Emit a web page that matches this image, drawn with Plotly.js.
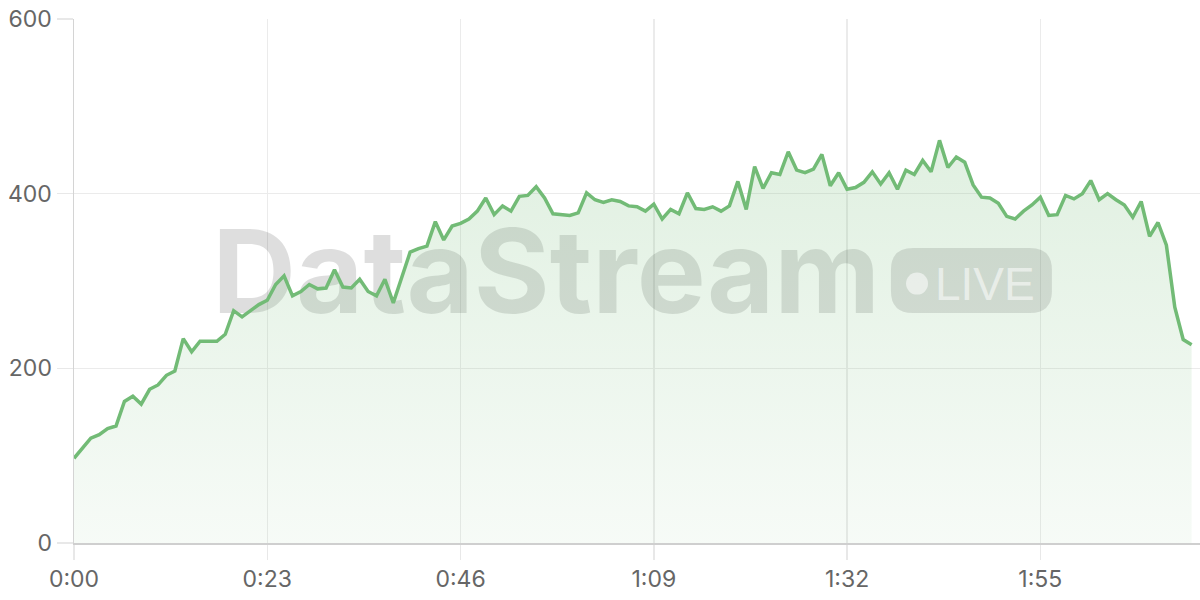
<!DOCTYPE html>
<html>
<head>
<meta charset="utf-8">
<script src="https://cdn.plot.ly/plotly-3.0.1.min.js"></script>
<style>
  html, body { margin: 0; padding: 0; background: #fff; }
  #chart { width: 1200px; height: 600px; }
</style>
</head>
<body>
<div id="chart"></div>
<script>
// ─── Data (one reading per second) ───
const seconds = Array.from({ length: 134 }, (_, i) => i);
const values = [
  97, 108, 120, 124, 131, 134, 162, 168, 159, 176,
  181, 192, 197, 234, 219, 231, 231, 231, 239, 266,
  259, 266, 273, 278, 296, 306, 283, 288, 296, 291,
  292, 313, 293, 292, 302, 288, 283, 302, 275, 304,
  333, 337, 340, 368, 347, 363, 366, 371, 380, 395,
  376, 386, 380, 397, 398, 408, 395, 377, 376, 375,
  378, 401, 393, 390, 393, 391, 386, 385, 380, 388,
  371, 382, 377, 401, 383, 382, 385, 380, 386, 414,
  382, 431, 406, 424, 422, 448, 427, 424, 428, 445,
  409, 424, 405, 407, 413, 425, 411, 424, 405, 427,
  422, 438, 425, 461, 430, 442, 436, 410, 396, 395,
  389, 374, 371, 380, 387, 396, 375, 376, 398, 394,
  400, 415, 393, 400, 393, 387, 373, 391, 351, 367,
  341, 270, 233, 227,
];
const tickSeconds = [0, 23, 46, 69, 92, 115];
const tickLabels = ["0:00", "0:23", "0:46", "1:09", "1:32", "1:55"];
const yTicks = [0, 200, 400, 600];

const GREEN = "#72bb76";
const tickFont = { family: "Inter, 'Liberation Sans', sans-serif", size: 23, color: "#666" };

// rounded badge behind "LIVE"
const badge =
  "M -58.5,-32.5 L 58.5,-32.5 Q 80.5,-32.5 80.5,-10.5 L 80.5,10.5 " +
  "Q 80.5,32.5 58.5,32.5 L -58.5,32.5 Q -80.5,32.5 -80.5,10.5 " +
  "L -80.5,-10.5 Q -80.5,-32.5 -58.5,-32.5 Z";

Plotly.newPlot(
  "chart",
  [
    // watermark sits under the series line
    {
      x: [56.2],
      y: [297],
      type: "scatter",
      mode: "text",
      text: ["DataStream"],
      textposition: "middle center",
      textfont: {
        family: "Inter, 'Liberation Sans', sans-serif",
        size: 116,
        weight: 700,
        color: "rgba(0,0,0,0.13)",
      },
      hoverinfo: "skip",
    },
    {
      x: seconds,
      y: values,
      type: "scatter",
      mode: "lines",
      line: { color: GREEN, width: 3.5 },
      fill: "tozeroy",
      fillgradient: {
        type: "vertical",
        colorscale: [
          [0, "rgba(114,187,118,0.06)"],
          [1, "rgba(114,187,118,0.22)"],
        ],
      },
      hoverinfo: "skip",
    },
  ],
  {
    width: 1200,
    height: 600,
    margin: { l: 74, r: 0, t: 19, b: 57 },
    paper_bgcolor: "#fff",
    plot_bgcolor: "#fff",
    showlegend: false,
    xaxis: {
      range: [0, 134],
      tickvals: tickSeconds,
      ticktext: tickLabels,
      ticks: "outside",
      ticklen: 15,
      tickwidth: 1.5,
      tickcolor: "#e8e8e8",
      showgrid: true,
      gridcolor: "#ebebeb",
      gridwidth: 1.5,
      showline: true,
      linecolor: "#cfcfcf",
      linewidth: 1.5,
      zeroline: false,
      tickfont: tickFont,
      fixedrange: true,
    },
    yaxis: {
      range: [0, 600],
      tickvals: yTicks,
      ticks: "outside",
      ticklen: 16,
      tickwidth: 1.5,
      tickcolor: "#e8e8e8",
      showgrid: true,
      gridcolor: "#ebebeb",
      gridwidth: 1.5,
      showline: true,
      linecolor: "#d4d4d4",
      linewidth: 1.5,
      zeroline: false,
      tickfont: tickFont,
      fixedrange: true,
    },
    shapes: [
      {
        type: "path",
        xref: "paper",
        yref: "paper",
        xsizemode: "pixel",
        ysizemode: "pixel",
        xanchor: 0.797,
        yanchor: 0.501,
        path: badge,
        fillcolor: "rgba(0,0,0,0.11)",
        line: { width: 0 },
        layer: "above",
      },
      {
        type: "circle",
        xref: "paper",
        yref: "paper",
        xsizemode: "pixel",
        ysizemode: "pixel",
        xanchor: 0.7487,
        yanchor: 0.495,
        x0: -11, x1: 11, y0: -11, y1: 11,
        fillcolor: "rgba(255,255,255,0.55)",
        line: { width: 0 },
        layer: "above",
      },
    ],
    annotations: [
      {
        text: "LIVE",
        xref: "paper",
        yref: "paper",
        x: 0.809,
        y: 0.495,
        xanchor: "center",
        yanchor: "middle",
        showarrow: false,
        font: { family: "'Liberation Sans', Arial, sans-serif", size: 46, color: "rgba(255,255,255,0.55)" },
      },
    ],
  },
  { displayModeBar: false, staticPlot: true },
);
</script>
</body>
</html>
